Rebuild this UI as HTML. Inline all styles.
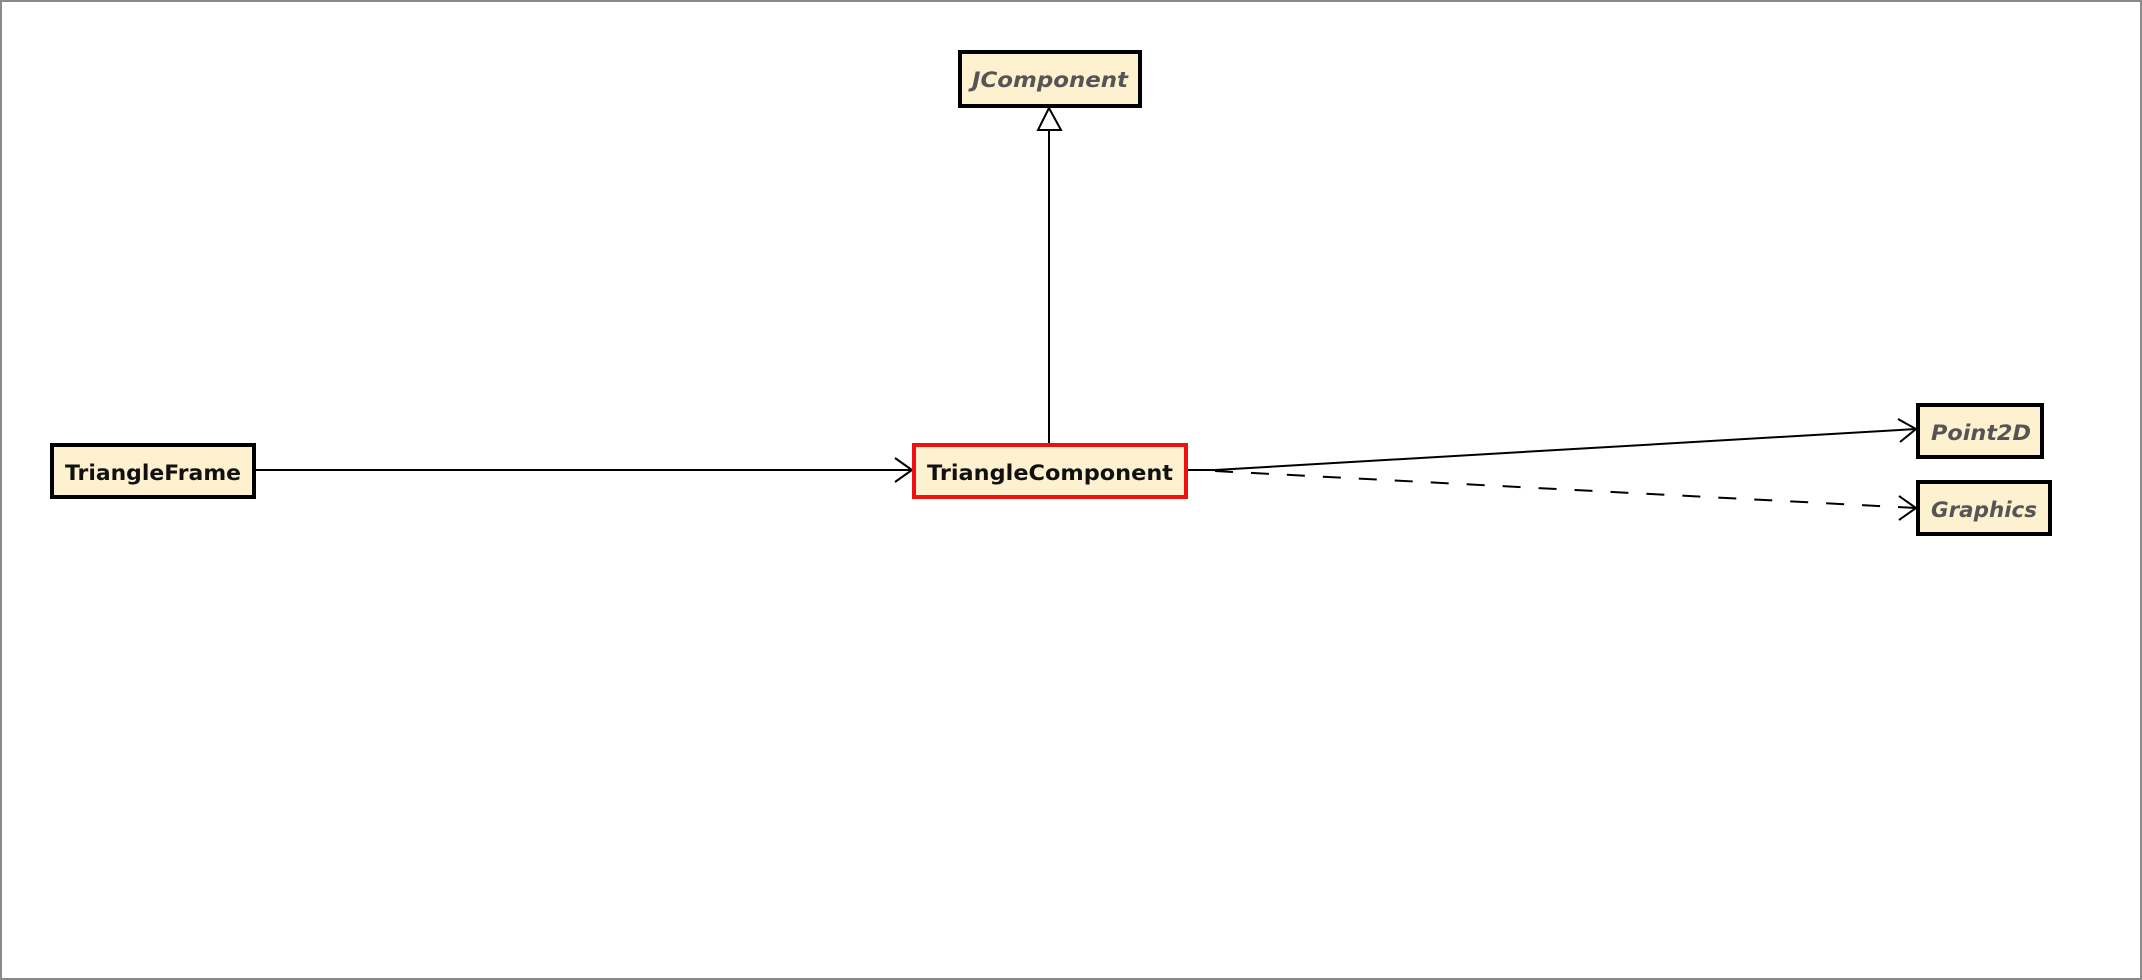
<!DOCTYPE html>
<html><head><meta charset="utf-8"><style>
html,body{margin:0;padding:0;background:#fff;}
svg{display:block;}
text{font-family:"DejaVu Sans","Liberation Sans",sans-serif;font-size:21px;font-weight:bold;}
</style></head><body>
<svg width="2142" height="980" viewBox="0 0 2142 980" xmlns="http://www.w3.org/2000/svg">
<rect x="1" y="1" width="2140" height="978" fill="#fff" stroke="#8a8a8a" stroke-width="2"/>
<!-- connectors -->
<line x1="1049" y1="443" x2="1049" y2="130" stroke="#000" stroke-width="2"/>
<polygon points="1049,108 1038,130 1061,130" fill="#fff" stroke="#000" stroke-width="2"/>
<line x1="256" y1="470" x2="912" y2="470" stroke="#000" stroke-width="2"/>
<polyline points="895,458 912,470 895,482" fill="none" stroke="#000" stroke-width="2"/>
<polyline points="1187,470 1215,470 1916,429" fill="none" stroke="#000" stroke-width="2"/>
<polyline points="1898,419 1916,429 1900,442" fill="none" stroke="#000" stroke-width="2"/>
<line x1="1215" y1="471" x2="1916" y2="508" stroke="#000" stroke-width="2" stroke-dasharray="18,18"/>
<polyline points="1899,496 1916,508 1899,520" fill="none" stroke="#000" stroke-width="2"/>
<!-- boxes -->
<rect x="960" y="52" width="180" height="54" fill="#fdf1cf" stroke="#000" stroke-width="4"/>
<text x="1050" y="87" text-anchor="middle" font-style="italic" fill="#555" textLength="156" lengthAdjust="spacingAndGlyphs">JComponent</text>
<rect x="52" y="445" width="202" height="52" fill="#fdf1cf" stroke="#000" stroke-width="4"/>
<text x="153" y="480" text-anchor="middle" fill="#111" textLength="176" lengthAdjust="spacingAndGlyphs">TriangleFrame</text>
<rect x="914" y="445" width="272" height="52" fill="#fdf1cf" stroke="#ee1111" stroke-width="4"/>
<text x="1050" y="480" text-anchor="middle" fill="#111" textLength="246" lengthAdjust="spacingAndGlyphs">TriangleComponent</text>
<rect x="1918" y="405" width="124" height="52" fill="#fdf1cf" stroke="#000" stroke-width="4"/>
<text x="1981" y="440" text-anchor="middle" font-style="italic" fill="#555" textLength="100" lengthAdjust="spacingAndGlyphs">Point2D</text>
<rect x="1918" y="482" width="132" height="52" fill="#fdf1cf" stroke="#000" stroke-width="4"/>
<text x="1984" y="517" text-anchor="middle" font-style="italic" fill="#555" textLength="106" lengthAdjust="spacingAndGlyphs">Graphics</text>
</svg>
</body></html>
